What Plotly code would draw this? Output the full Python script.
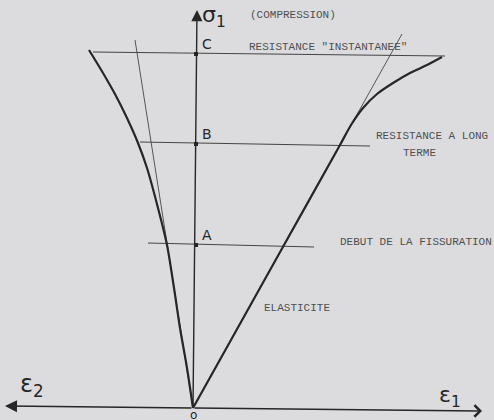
import plotly.graph_objects as go

# Stress levels on the sigma_1 axis (compression)
level_names = ["A", "B", "C"]
level_sigma = [163, 264, 354]
level_left = [-45, -53, -100]
level_right = [121, 177, 252]
level_texts = ["DEBUT DE LA FISSURATION", "RESISTANCE A LONG<br>TERME", 'RESISTANCE "INSTANTANEE"']

# Lateral strain curve (epsilon_2 side)
eps2_x = [-104, -90, -77, -66, -55, -46, -35, -26, -19, -13, -6, 0]
eps2_y = [358, 335, 312, 290, 265, 240, 200, 163, 120, 80, 40, 0]

# Axial strain curve (epsilon_1 side)
eps1_x = [0, 91, 147, 158, 170, 184, 200, 217, 234, 249]
eps1_y = [0, 163, 263, 283, 300, 314, 325, 335, 343, 351]

# Elastic (linear) tangents
tan2_x = [0, -58]
tan2_y = [0, 368]
tan1_x = [0, 209]
tan1_y = [0, 374]

ink = "#262626"
paper = "#dcdcdf"
txt = "#4f4f4f"
mono = "Liberation Mono, Courier New, monospace"

fig = go.Figure()

# thin tangent lines
for xs, ys in [(tan2_x, tan2_y), (tan1_x, tan1_y)]:
    fig.add_trace(go.Scatter(x=xs, y=ys, mode="lines",
                             line=dict(color="#555555", width=1), hoverinfo="skip"))

# horizontal level lines
for yv, xl, xr in zip(level_sigma, level_left, level_right):
    fig.add_trace(go.Scatter(x=[xl, xr], y=[yv + 2, yv - 2], mode="lines",
                             line=dict(color="#444444", width=1), hoverinfo="skip"))

# strain curves
fig.add_trace(go.Scatter(x=eps2_x, y=eps2_y, mode="lines",
                         line=dict(color=ink, width=2.2, shape="spline", smoothing=0.8),
                         hoverinfo="skip"))
fig.add_trace(go.Scatter(x=eps1_x, y=eps1_y, mode="lines",
                         line=dict(color=ink, width=2.2, shape="spline", smoothing=0.8),
                         hoverinfo="skip"))

# level markers on the axis
fig.add_trace(go.Scatter(x=[3] * 3, y=level_sigma, mode="markers",
                         marker=dict(symbol="square", size=4, color=ink), hoverinfo="skip"))

ann = []
# axes arrows
ann.append(dict(x=4, y=398, ax=0, ay=0, xref="x", yref="y", axref="x", ayref="y",
                showarrow=True, arrowhead=2, arrowsize=1.6, arrowwidth=1.4, arrowcolor=ink, text=""))
ann.append(dict(x=289, y=-3, ax=0, ay=0, xref="x", yref="y", axref="x", ayref="y",
                showarrow=True, arrowhead=4, arrowsize=1.6, arrowwidth=1.4, arrowcolor=ink, text=""))
ann.append(dict(x=-188, y=2, ax=0, ay=0, xref="x", yref="y", axref="x", ayref="y",
                showarrow=True, arrowhead=2, arrowsize=1.5, arrowwidth=1.6, arrowcolor=ink, text=""))

def label(x, y, text, size, color=txt, family=mono, xanchor="left"):
    ann.append(dict(x=x, y=y, xref="x", yref="y", text=text, showarrow=False,
                    xanchor=xanchor, yanchor="middle",
                    font=dict(family=family, size=size, color=color)))

label(7, 392, "σ<sub>1</sub>", 22, color=ink, family="DejaVu Sans")
label(55, 393, "(COMPRESSION)", 11)
for name, yv in zip(level_names, level_sigma):
    label(7, yv + 10, name, 14, color=ink, family="DejaVu Sans")
label(54, 361, level_texts[2], 11)
label(181, 272, "RESISTANCE A LONG", 11)
label(208, 255, "TERME", 11)
label(145, 166, level_texts[0], 11)
label(69, 100, "ELASTICITE", 11)
label(-161, 23, "ε<sub>2</sub>", 24, color=ink, family="DejaVu Sans", xanchor="center")
label(257, 12, "ε<sub>1</sub>", 22, color=ink, family="DejaVu Sans", xanchor="center")
label(0, -7, "o", 12, color=ink, family="DejaVu Sans", xanchor="center")

fig.update_layout(
    width=494, height=420, margin=dict(l=0, r=0, t=0, b=0),
    paper_bgcolor=paper, plot_bgcolor=paper, showlegend=False,
    xaxis=dict(range=[-193, 301], visible=False, fixedrange=True),
    yaxis=dict(range=[-12, 408], visible=False, fixedrange=True),
    annotations=ann,
)

fig.write_html("out.html")
